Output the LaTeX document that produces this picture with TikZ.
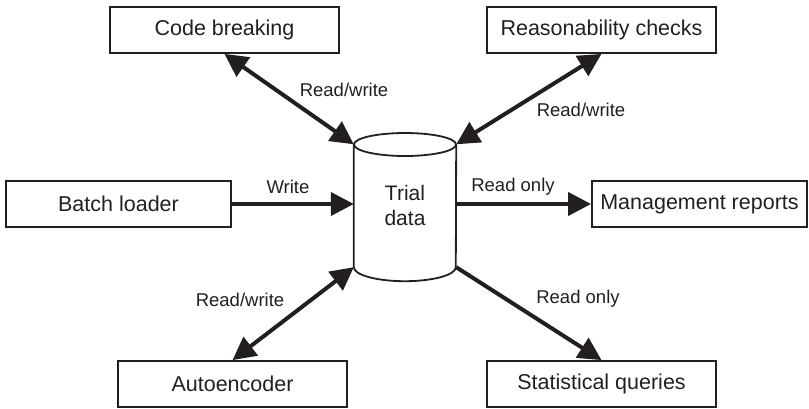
\documentclass[tikz,border=0pt]{standalone}
\usepackage{fontspec}
\setmainfont{Liberation Sans}
\usetikzlibrary{arrows.meta}
\definecolor{ink}{HTML}{231F20}
\begin{document}
\begin{tikzpicture}[x=1pt,y=-1pt,
  box/.style={draw=ink, line width=1.8pt, minimum height=46pt, inner sep=0pt,
    text=ink, font=\fontsize{21.5}{25}\selectfont},
  conn/.style={draw=ink, line width=4pt, -{Triangle[length=23pt,width=23pt]}},
  conn2/.style={draw=ink, line width=4pt, {Triangle[length=23pt,width=23pt]}-{Triangle[length=23pt,width=23pt]}},
  lab/.style={text=ink, font=\fontsize{18.5}{22}\selectfont, inner sep=0pt}]
\useasboundingbox (0,0) rectangle (809,408);
% boxes
\node[box, minimum width=229pt] (cb) at (224.5,30) {Code breaking};
\node[box, minimum width=229pt] (rc) at (601.5,30) {Reasonability checks};
\node[box, minimum width=225pt] (bl) at (118.5,204) {Batch loader};
\node[box, minimum width=215pt] (mr) at (699.5,204) {Management reports};
\node[box, minimum width=229pt] (ae) at (232.5,384) {Autoencoder};
\node[box, minimum width=229pt] (sq) at (601.5,384) {Statistical queries};
% database
\node[minimum width=102pt, minimum height=122.5pt, inner sep=0pt, align=center,
  text=ink, font=\fontsize{21}{25}\selectfont] (db) at (405,205.75) {Trial\\data};
\draw[ink, line width=1.8pt] (db.center |- 0,144.5) ellipse[x radius=51, y radius=11.5];
\draw[ink, line width=1.8pt] (db.north west) -- (db.south west)
  arc[start angle=180, end angle=0, x radius=51, y radius=14] -- (db.north east);
% connectors
\draw[conn2] (cb.south) -- (db.north west);
\draw[conn2] (rc.south) -- (db.north east);
\draw[conn] (bl.east) -- (db.west |- bl.east);
\draw[conn] (db.east |- mr.west) -- (mr.west);
\draw[conn2] (ae.north) -- (db.south west);
\draw[conn] (db.south east) -- (sq.north);
% labels
\node[lab] (l1) at (344,90) {Read/write};
\node[lab] (l2) at (581,110) {Read/write};
\node[lab] (l3) at (288,187) {Write};
\node[lab] (l4) at (513,187) {Read only};
\node[lab] (l5) at (240,300) {Read/write};
\node[lab] (l6) at (578,299) {Read only};
\end{tikzpicture}
\end{document}
